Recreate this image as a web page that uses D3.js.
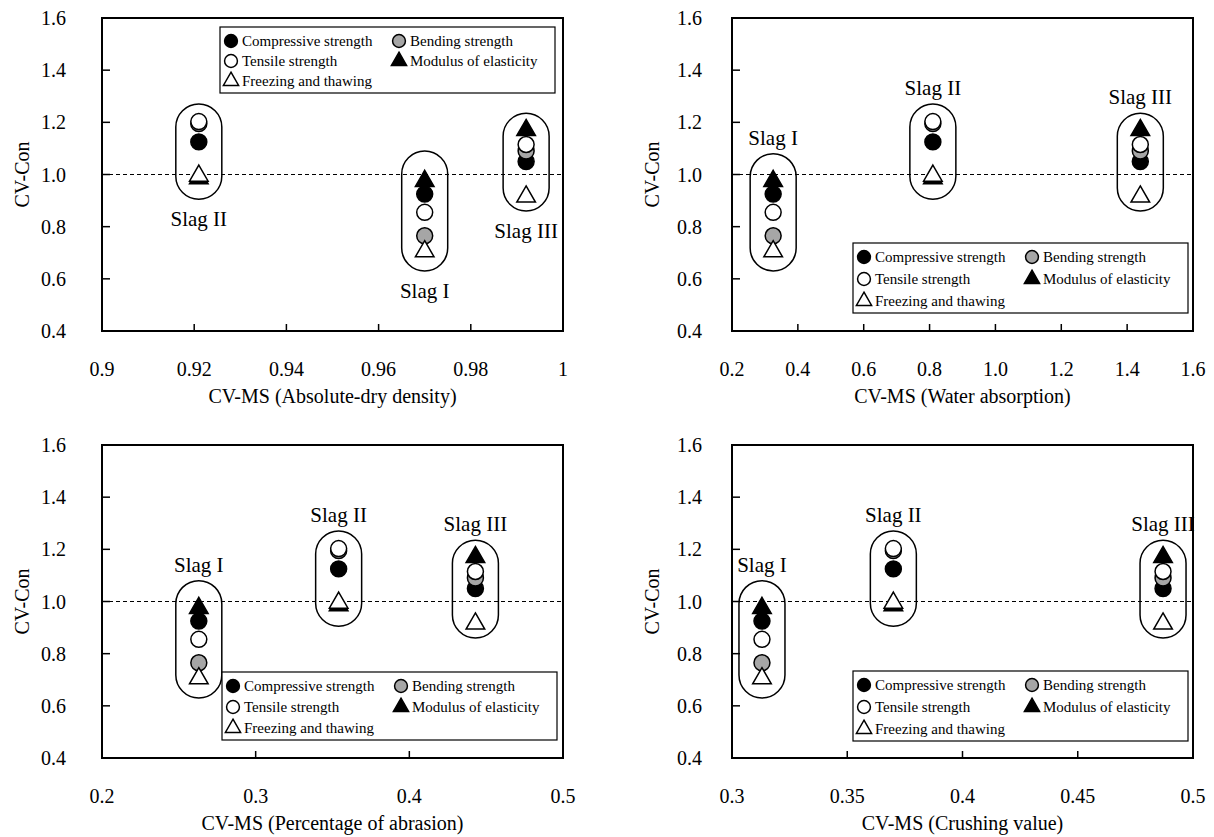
<!DOCTYPE html>
<html lang="en">
<head>
<meta charset="UTF-8" />
<title>CV-Con vs CV-MS</title>
<script src="https://cdn.jsdelivr.net/npm/d3@7"></script>
<style>
  body { margin: 0; background: #fff; }
</style>
</head>
<body>
<svg id="vis" width="1214" height="837" font-family="'Liberation Serif', 'Times New Roman', Tinos, 'DejaVu Serif', serif"></svg>
<script>
// series (draw order) and their CV-Con values for Slag I, II, III
const seriesNames = ["Compressive strength", "Bending strength", "Tensile strength", "Modulus of elasticity", "Freezing and thawing"];
const slagNames = ["Slag I", "Slag II", "Slag III"];
const compressive = [0.925, 1.125, 1.05];
const bending = [0.765, 1.195, 1.09];
const tensile = [0.855, 1.203, 1.115];
const modulus = [0.975, 0.985, 1.17];
const freezing = [0.705, 0.995, 0.915];

// CV-MS of each slag for the four aggregate properties
const cvDensity = [0.970, 0.921, 0.992];
const cvAbsorption = [0.325, 0.81, 1.44];
const cvAbrasion = [0.263, 0.354, 0.443];
const cvCrushing = [0.313, 0.37, 0.487];

const yTicks = [0.4, 0.6, 0.8, 1.0, 1.2, 1.4, 1.6];

const values = [compressive, bending, tensile, modulus, freezing];
const symbolOf = [
  { type: d3.symbolCircle, fill: "#000" },
  { type: d3.symbolCircle, fill: "#a6a6a6" },
  { type: d3.symbolCircle, fill: "#fff" },
  { type: d3.symbolTriangle, fill: "#000" },
  { type: d3.symbolTriangle, fill: "#fff" }
];

const panels = [
  { x0: 102, y0: 18, xs: cvDensity, domain: [0.9, 1.0], ticks: [0.9, 0.92, 0.94, 0.96, 0.98, 1.0], fmt: d3.format("~g"),
    title: "CV-MS (Absolute-dry density)", labelPos: "below", yGap: 36,
    ovals: [[1.09, 0.63], [1.27, 0.905], [1.235, 0.86]], legend: [220, 27, 20] },
  { x0: 732, y0: 18, xs: cvAbsorption, domain: [0.2, 1.6], ticks: [0.2, 0.4, 0.6, 0.8, 1.0, 1.2, 1.4, 1.6], fmt: d3.format(".1f"),
    title: "CV-MS (Water absorption)", labelPos: "above", yGap: 30,
    ovals: [[1.08, 0.63], [1.27, 0.905], [1.235, 0.86]], legend: [853, 243, 22] },
  { x0: 102, y0: 445, xs: cvAbrasion, domain: [0.2, 0.5], ticks: [0.2, 0.3, 0.4, 0.5], fmt: d3.format(".1f"),
    title: "CV-MS (Percentage of abrasion)", labelPos: "above", yGap: 36,
    ovals: [[1.08, 0.63], [1.27, 0.905], [1.235, 0.86]], legend: [222, 672, 21] },
  { x0: 732, y0: 445, xs: cvCrushing, domain: [0.3, 0.5], ticks: [0.3, 0.35, 0.4, 0.45, 0.5], fmt: d3.format("~g"),
    title: "CV-MS (Crushing value)", labelPos: "above", yGap: 30,
    ovals: [[1.08, 0.63], [1.27, 0.905], [1.235, 0.86]], legend: [853, 671, 22] }
];

const W = 461, H = 313;
const svg = d3.select("#vis");

panels.forEach(function(p) {
  const g = svg.append("g").attr("transform", "translate(" + p.x0 + "," + p.y0 + ")");
  const x = d3.scaleLinear().domain(p.domain).range([0, W]);
  const y = d3.scaleLinear().domain([0.4, 1.6]).range([H, 0]);

  // inward ticks
  const inner = yTicks.slice(1, -1);
  g.selectAll(".yt").data(inner).enter().append("line")
    .attr("x1", 0).attr("x2", 8)
    .attr("y1", function(d) { return y(d); }).attr("y2", function(d) { return y(d); })
    .attr("stroke", "#000").attr("stroke-width", 1.5);
  const innerX = p.ticks.slice(1, -1);
  g.selectAll(".xt").data(innerX).enter().append("line")
    .attr("x1", function(d) { return x(d); }).attr("x2", function(d) { return x(d); })
    .attr("y1", H).attr("y2", H - 7)
    .attr("stroke", "#000").attr("stroke-width", 1.5);

  // tick labels
  g.selectAll(".yl").data(yTicks).enter().append("text")
    .attr("x", -p.yGap).attr("y", function(d) { return y(d); })
    .attr("dy", "0.35em").attr("text-anchor", "end")
    .style("font-size", "20px")
    .text(d3.format(".1f"));
  g.selectAll(".xl").data(p.ticks).enter().append("text")
    .attr("x", function(d) { return x(d); }).attr("y", H + 45)
    .attr("text-anchor", "middle")
    .style("font-size", "20px")
    .text(p.fmt);

  // axis titles
  g.append("text").attr("x", W / 2).attr("y", H + 72)
    .attr("text-anchor", "middle").style("font-size", "20px").text(p.title);
  g.append("text").attr("transform", "translate(-80," + (H / 2) + ") rotate(-90)")
    .attr("dy", "0.35em")
    .attr("text-anchor", "middle").style("font-size", "20px").text("CV-Con");

  // reference line
  g.append("line").attr("x1", 0).attr("x2", W).attr("y1", y(1.0)).attr("y2", y(1.0))
    .attr("stroke", "#000").attr("stroke-width", 1.2).attr("stroke-dasharray", "4,3");

  // ovals around each slag
  slagNames.forEach(function(s, i) {
    const top = y(p.ovals[i][0]), bot = y(p.ovals[i][1]);
    g.append("rect")
      .attr("x", x(p.xs[i]) - 23).attr("y", top)
      .attr("width", 46).attr("height", bot - top)
      .attr("rx", 23).attr("ry", 23)
      .attr("fill", "none").attr("stroke", "#000").attr("stroke-width", 1.5);
    g.append("text")
      .attr("x", x(p.xs[i]))
      .attr("y", p.labelPos === "below" ? bot + 27 : top - 9)
      .attr("text-anchor", "middle").style("font-size", "21px").text(s);
  });

  // markers
  values.forEach(function(vals, k) {
    const sym = symbolOf[k];
    g.selectAll(".m" + k).data(vals).enter().append("path")
      .attr("d", d3.symbol().type(sym.type).size(sym.type === d3.symbolCircle ? 200 : 150))
      .attr("transform", function(d, i) {
        return "translate(" + x(p.xs[i]) + "," + y(d) + ")";
      })
      .attr("fill", sym.fill).attr("stroke", "#000").attr("stroke-width", 1.5);
  });

  // frame
  g.append("rect").attr("x", 0).attr("y", 0).attr("width", W).attr("height", H)
    .attr("fill", "none").attr("stroke", "#000").attr("stroke-width", 2);

  // legend
  const step = p.legend[2];
  const lg = svg.append("g").attr("transform", "translate(" + p.legend[0] + "," + p.legend[1] + ")");
  lg.append("rect").attr("width", 335).attr("height", 26 + 2 * step)
    .attr("fill", "#fff").attr("stroke", "#000").attr("stroke-width", 1.2);
  const slots = [[0, 0], [168, 0], [0, 1], [168, 1], [0, 2]];
  slots.forEach(function(sl, k) {
    const sym = symbolOf[k];
    const lx = 11 + sl[0], ly = 14 + sl[1] * step;
    lg.append("path")
      .attr("d", d3.symbol().type(sym.type).size(sym.type === d3.symbolCircle ? 130 : 100))
      .attr("transform", "translate(" + lx + "," + ly + ")")
      .attr("fill", sym.fill).attr("stroke", "#000").attr("stroke-width", 1.5);
    lg.append("text").attr("x", lx + 11).attr("y", ly).attr("dy", "0.35em")
      .style("font-size", "15px").text(seriesNames[k]);
  });
});
</script>
</body>
</html>
